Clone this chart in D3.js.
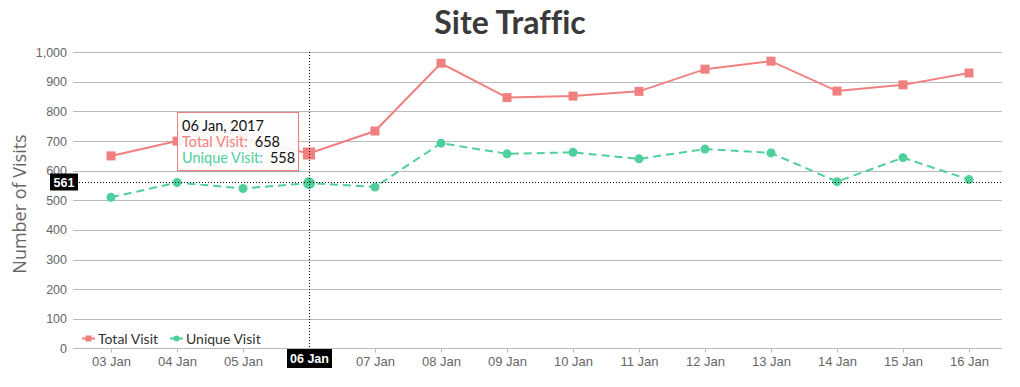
<!DOCTYPE html>
<html>
<head>
<meta charset="utf-8">
<script src="https://cdn.jsdelivr.net/npm/d3@7"></script>
<style>
html,body{margin:0;padding:0;background:#fff;}
svg{display:block;}
text{font-variant-ligatures:none;}
</style>
</head>
<body>
<svg id="chart" width="1020" height="387"></svg>
<script>
const categories = ["03 Jan","04 Jan","05 Jan","06 Jan","07 Jan","08 Jan","09 Jan","10 Jan","11 Jan","12 Jan","13 Jan","14 Jan","15 Jan","16 Jan"];
const totalVisit = [650,700,710,658,734,963,847,852,868,943,970,869,890,930];
const uniqueVisit = [510,560,540,558,545,693,657,662,640,673,660,563,644,570];
const yTicks = [0,100,200,300,400,500,600,700,800,900,1000];
const seriesNames = ["Total Visit","Unique Visit"];
const hoverIndex = 3;
const hoverY = 561;
const tooltipDate = "06 Jan, 2017";

const colTotal = "#f08080";
const colUnique = "#4fcf9c";
const svg = d3.select("#chart");

const x = d3.scaleLinear().domain([-0.576, categories.length - 0.5]).range([73, 1002]);
const y = d3.scaleLinear().domain([0, 1000]).range([348.3, 52.3]);

// title
svg.append("text").attr("x", 510).attr("y", 34).attr("text-anchor","middle")
  .attr("font-family","Lato, 'Open Sans', sans-serif").attr("font-weight","bold")
  .attr("font-size", 32).attr("fill","#3a3a3a").text("Site Traffic");

// y axis title
svg.append("text").attr("transform","translate(26,204) rotate(-90)")
  .attr("text-anchor","middle").attr("font-family","'Open Sans', sans-serif")
  .attr("font-size",18).attr("fill","#666").text("Number of Visits");

// grid
const yAxis = d3.axisLeft(y).tickValues(yTicks).tickSize(0).tickPadding(6)
  .tickFormat(d3.format(","));
const gy = svg.append("g").attr("transform","translate(73,0)").call(yAxis);
gy.select(".domain").remove();
gy.selectAll("text").attr("font-family","'Liberation Sans', Arial, sans-serif").attr("font-size",12.5).attr("fill","#666");
svg.append("g").selectAll("line").data(yTicks.filter(d=>d>0)).join("line")
  .attr("x1",73).attr("x2",1002).attr("y1",d=>Math.round(y(d))+0.5).attr("y2",d=>Math.round(y(d))+0.5)
  .attr("stroke","#bbb").attr("stroke-width",1);

// x axis
const xAxis = d3.axisBottom(x).tickValues(d3.range(categories.length))
  .tickFormat(i => categories[i]).tickSize(4).tickPadding(4);
const gx = svg.append("g").attr("transform","translate(0,348.5)").call(xAxis);
gx.select(".domain").attr("stroke","#bbb").attr("d","M73,0H1002");
gx.selectAll(".tick line").attr("stroke","#bbb");
gx.selectAll("text").attr("font-family","'Liberation Sans', Arial, sans-serif").attr("font-size",13).attr("fill","#666");
gx.selectAll(".tick").filter((d)=>d===hoverIndex).select("text").attr("opacity",0);

// lines
const line = d3.line().x((d,i)=>x(i)).y(d=>y(d));
svg.append("path").datum(totalVisit).attr("d",line).attr("fill","none")
  .attr("stroke",colTotal).attr("stroke-width",2);
svg.append("path").datum(uniqueVisit).attr("d",line).attr("fill","none")
  .attr("stroke",colUnique).attr("stroke-width",2).attr("stroke-dasharray","8,5");

// markers
svg.append("g").selectAll("rect").data(totalVisit).join("rect")
  .attr("x",(d,i)=>x(i)-(i===hoverIndex?6:4.5)).attr("y",(d,i)=>y(d)-(i===hoverIndex?6:4.5))
  .attr("width",(d,i)=>i===hoverIndex?12:9).attr("height",(d,i)=>i===hoverIndex?12:9)
  .attr("fill",colTotal);
svg.append("g").selectAll("circle").data(uniqueVisit).join("circle")
  .attr("cx",(d,i)=>x(i)).attr("cy",d=>y(d)).attr("r",(d,i)=>i===hoverIndex?6:4.5)
  .attr("fill",colUnique);

// crosshairs
const hx = Math.round(x(hoverIndex))+0.5, hy = Math.round(y(hoverY))+0.5;
svg.append("line").attr("x1",hx).attr("x2",hx).attr("y1",52).attr("y2",348)
  .attr("stroke","#000").attr("stroke-width",1).attr("stroke-dasharray","1,2");
svg.append("line").attr("x1",73).attr("x2",1002).attr("y1",hy).attr("y2",hy)
  .attr("stroke","#000").attr("stroke-width",1).attr("stroke-dasharray","1,2");
svg.append("rect").attr("x",50).attr("y",hy-9).attr("width",28).attr("height",17).attr("fill","#000");
svg.append("text").attr("x",64).attr("y",hy+4.5).attr("text-anchor","middle")
  .attr("font-family","'Liberation Sans', Arial, sans-serif").attr("font-weight","bold")
  .attr("font-size",12.5).attr("fill","#fff").text(hoverY);
svg.append("rect").attr("x",hx-22.5).attr("y",349).attr("width",45).attr("height",19).attr("fill","#000");
svg.append("text").attr("x",hx).attr("y",363).attr("text-anchor","middle")
  .attr("font-family","'Liberation Sans', Arial, sans-serif").attr("font-weight","bold")
  .attr("font-size",12.5).attr("fill","#fff").text(categories[hoverIndex]);

// legend
const lg = svg.append("g").attr("font-family","Lato, 'Open Sans', sans-serif").attr("font-size",14).attr("fill","#333");
const legendX = [82, 170];
seriesNames.forEach((n,k)=>{
  const c = k===0?colTotal:colUnique;
  const lx = legendX[k], ly = 338.5;
  lg.append("line").attr("x1",lx).attr("x2",lx+13).attr("y1",ly).attr("y2",ly).attr("stroke",c).attr("stroke-width",2);
  if(k===0) lg.append("rect").attr("x",lx+3.5).attr("y",ly-3).attr("width",6).attr("height",6).attr("fill",c);
  else lg.append("circle").attr("cx",lx+6.5).attr("cy",ly).attr("r",3).attr("fill",c);
  lg.append("text").attr("x",lx+16).attr("y",ly+5).text(n);
});

// tooltip
const tt = svg.append("g");
tt.append("rect").attr("x",178.5).attr("y",113.5).attr("width",121).attr("height",59)
  .attr("fill","#000").attr("opacity",0.08);
tt.append("rect").attr("x",177.5).attr("y",112.5).attr("width",121).attr("height",58)
  .attr("fill","rgba(255,255,255,0.9)").attr("stroke",colTotal).attr("stroke-width",1);
const tf = "Lato, 'Open Sans', sans-serif";
tt.append("text").attr("x",182).attr("y",131).attr("font-family",tf).attr("font-size",14.5).attr("fill","#111").text(tooltipDate);
const t1 = tt.append("text").attr("x",182).attr("y",147).attr("font-family",tf).attr("font-size",14.5);
t1.append("tspan").attr("fill",colTotal).text(seriesNames[0]+":");
t1.append("tspan").attr("fill","#111").attr("dx",7).text(totalVisit[hoverIndex]);
const t2 = tt.append("text").attr("x",182).attr("y",163).attr("font-family",tf).attr("font-size",14.5);
t2.append("tspan").attr("fill",colUnique).text(seriesNames[1]+":");
t2.append("tspan").attr("fill","#111").attr("dx",7).text(uniqueVisit[hoverIndex]);
</script>
</body>
</html>
